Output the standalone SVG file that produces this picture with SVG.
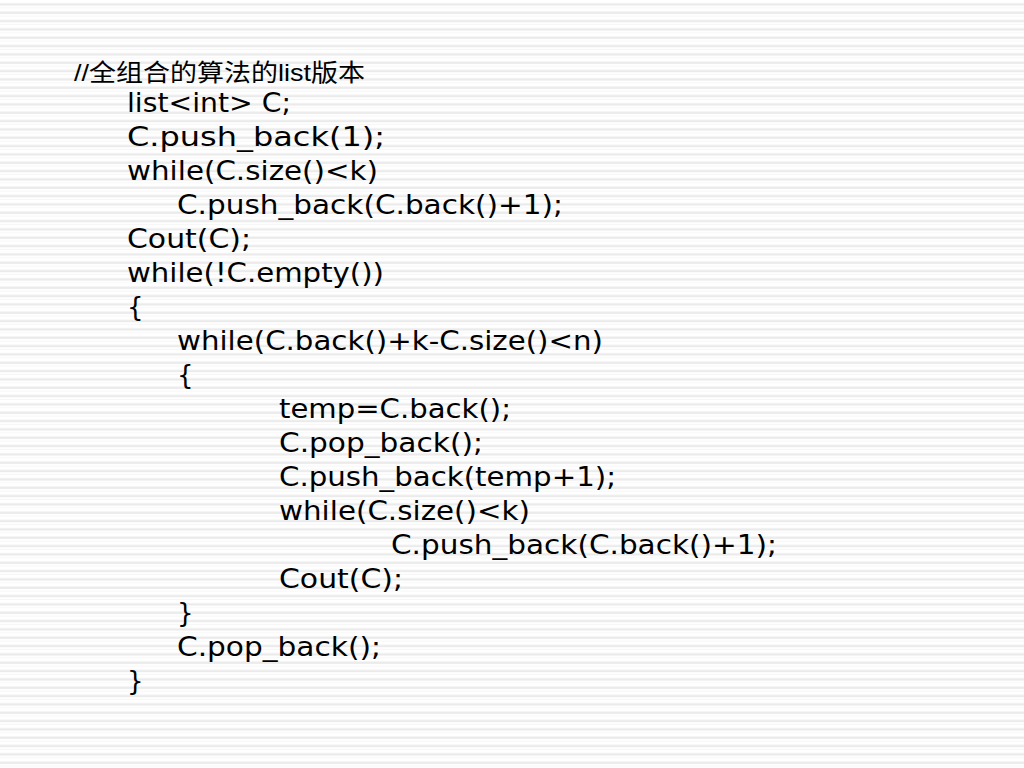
<svg xmlns="http://www.w3.org/2000/svg" width="1024" height="768" viewBox="0 0 1024 768">
<defs>
<pattern id="stripes" x="0" y="0" width="50" height="8.333" patternUnits="userSpaceOnUse">
<rect x="0" y="0" width="50" height="8.333" fill="#ffffff"/>
<rect x="0" y="3.2" width="50" height="2.4" fill="#ebebeb"/>
<rect x="0" y="7.4" width="50" height="0.8" fill="#f6f6f6"/>
</pattern>
<style>
.code{font-family:"DejaVu Sans","Verdana",sans-serif;font-size:26px;fill:#000000;}
.title{font-family:"Liberation Sans","Noto Sans CJK SC",sans-serif;font-size:24px;fill:#000000;}
</style>
</defs>
<rect id="background" x="0" y="0" width="1024" height="768" fill="url(#stripes)"/>
<g id="title"><text class="title" x="74" y="81" textLength="291" lengthAdjust="spacingAndGlyphs">//全组合的算法的list版本</text></g>
<g id="code">
<text class="code" x="127" y="112" textLength="164" lengthAdjust="spacingAndGlyphs">list&lt;int&gt; C;</text>
<text class="code" x="127" y="146" textLength="258" lengthAdjust="spacingAndGlyphs">C.push_back(1);</text>
<text class="code" x="127" y="180" textLength="251" lengthAdjust="spacingAndGlyphs">while(C.size()&lt;k)</text>
<text class="code" x="177" y="214" textLength="386" lengthAdjust="spacingAndGlyphs">C.push_back(C.back()+1);</text>
<text class="code" x="127" y="248" textLength="124" lengthAdjust="spacingAndGlyphs">Cout(C);</text>
<text class="code" x="127" y="282" textLength="257" lengthAdjust="spacingAndGlyphs">while(!C.empty())</text>
<text class="code" x="127" y="316">{</text>
<text class="code" x="177" y="350" textLength="426" lengthAdjust="spacingAndGlyphs">while(C.back()+k-C.size()&lt;n)</text>
<text class="code" x="177" y="384">{</text>
<text class="code" x="279" y="418" textLength="232" lengthAdjust="spacingAndGlyphs">temp=C.back();</text>
<text class="code" x="279" y="452" textLength="204" lengthAdjust="spacingAndGlyphs">C.pop_back();</text>
<text class="code" x="279" y="486" textLength="337" lengthAdjust="spacingAndGlyphs">C.push_back(temp+1);</text>
<text class="code" x="279" y="520" textLength="251" lengthAdjust="spacingAndGlyphs">while(C.size()&lt;k)</text>
<text class="code" x="391" y="554" textLength="386" lengthAdjust="spacingAndGlyphs">C.push_back(C.back()+1);</text>
<text class="code" x="279" y="588" textLength="124" lengthAdjust="spacingAndGlyphs">Cout(C);</text>
<text class="code" x="177" y="622">}</text>
<text class="code" x="177" y="656" textLength="204" lengthAdjust="spacingAndGlyphs">C.pop_back();</text>
<text class="code" x="127" y="690">}</text>
</g>
</svg>
